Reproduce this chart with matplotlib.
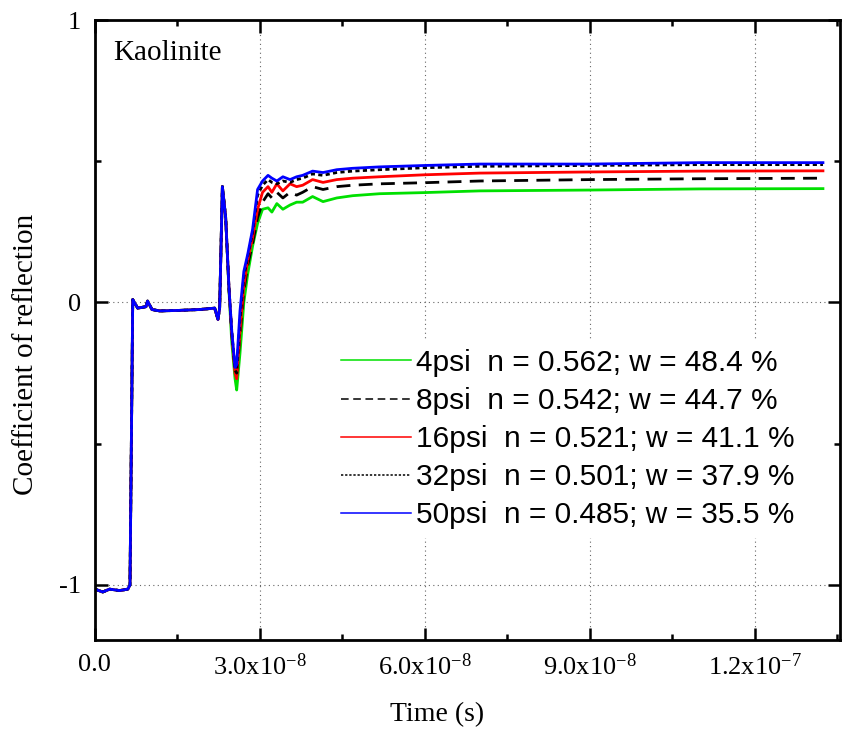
import numpy as np
import matplotlib
matplotlib.use('Agg')
import matplotlib.pyplot as plt
from matplotlib.ticker import FixedLocator, MultipleLocator

plt.rcParams['font.family'] = 'Liberation Serif'
plt.rcParams['mathtext.fontset'] = 'custom'
plt.rcParams['mathtext.rm'] = 'Liberation Serif'
plt.rcParams['mathtext.it'] = 'Liberation Serif:italic'

### data (time in units of 1e-8 s) ###
t_1e8 = [0.0, 0.145, 0.27, 0.45, 0.6, 0.64, 0.69, 0.78, 0.93, 0.96, 1.04, 1.18, 1.55, 1.91,
         2.18, 2.24, 2.27, 2.32, 2.38, 2.44, 2.49, 2.55, 2.58, 2.64, 2.71, 2.78, 2.87, 2.96,
         3.05, 3.15, 3.22, 3.31, 3.42, 3.55, 3.67, 3.78, 3.96, 4.15, 4.40, 4.69, 5.18, 6.0,
         7.0, 9.0, 11.0, 13.24]

# shared start of every trace (up to t = 2.44)
start = [-1.015, -1.025, -1.015, -1.02, -1.015, -1.0, 0.01, -0.02, -0.015, 0.005, -0.025,
         -0.03, -0.028, -0.025, -0.02, -0.06, -0.02, 0.41, 0.30]

r_4psi = start + [0.04, -0.14, -0.27, -0.31, -0.18, 0.0, 0.10, 0.20, 0.28, 0.33, 0.335, 0.32,
                  0.35, 0.33, 0.345, 0.355, 0.355, 0.375, 0.357, 0.37, 0.378, 0.385, 0.389,
                  0.395, 0.398, 0.402, 0.403]
r_8psi = start + [0.05, -0.11, -0.24, -0.26, -0.12, 0.04, 0.13, 0.21, 0.30, 0.355, 0.385, 0.37,
                  0.39, 0.37, 0.39, 0.38, 0.39, 0.41, 0.40, 0.41, 0.415, 0.42, 0.424,
                  0.43, 0.435, 0.438, 0.44]
r_16psi = start + [0.05, -0.11, -0.25, -0.27, -0.10, 0.06, 0.15, 0.23, 0.33, 0.39, 0.41, 0.39,
                   0.42, 0.395, 0.42, 0.41, 0.415, 0.435, 0.425, 0.435, 0.44, 0.445, 0.452,
                   0.458, 0.462, 0.465, 0.466]
r_32psi = start + [0.05, -0.10, -0.24, -0.25, -0.06, 0.09, 0.16, 0.25, 0.38, 0.415, 0.435, 0.425,
                   0.42, 0.43, 0.425, 0.435, 0.44, 0.455, 0.45, 0.46, 0.465, 0.47, 0.477,
                   0.482, 0.485, 0.488, 0.488]
r_50psi = start + [0.05, -0.10, -0.23, -0.22, -0.03, 0.11, 0.17, 0.26, 0.40, 0.43, 0.45, 0.44,
                   0.43, 0.445, 0.435, 0.445, 0.45, 0.465, 0.46, 0.47, 0.475, 0.48, 0.485,
                   0.49, 0.49, 0.495, 0.495]

labels = ['4psi  n = 0.562; w = 48.4 %',
          '8psi  n = 0.542; w = 44.7 %',
          '16psi  n = 0.521; w = 41.1 %',
          '32psi  n = 0.501; w = 37.9 %',
          '50psi  n = 0.485; w = 35.5 %']

xticks = [0.0, 3.0e-8, 6.0e-8, 9.0e-8, 1.2e-7]
xticklabels = ['0.0', '3.0x10$^{-8}$', '6.0x10$^{-8}$', '9.0x10$^{-8}$', '1.2x10$^{-7}$']
yticks = [-1, 0, 1]

### figure ###
fig = plt.figure(figsize=(8.54, 7.30), dpi=100)
ax = fig.add_axes([0.111, 0.1233, 0.8726, 0.8493])

t = np.array(t_1e8) * 1e-8
lw = 2.0
ax.plot(t, r_4psi, color='#00e000', lw=lw, label=labels[0])
ax.plot(t, r_8psi, color='black', lw=lw, dashes=(5, 3), label=labels[1])
ax.plot(t, r_16psi, color='#ff0000', lw=lw, label=labels[2])
ax.plot(t, r_32psi, color='black', lw=lw, dashes=(1.5, 1.2), label=labels[3])
ax.plot(t, r_50psi, color='#0000ff', lw=lw, label=labels[4])

ax.set_xlim(0, 1.355e-7)
ax.set_ylim(-1.195, 1.0)

ax.xaxis.set_major_locator(FixedLocator(xticks))
ax.set_xticklabels(xticklabels)
ax.xaxis.set_minor_locator(MultipleLocator(1.5e-8))
ax.yaxis.set_major_locator(FixedLocator(yticks))
ax.set_yticklabels(['-1', '0', '1'])
ax.yaxis.set_minor_locator(MultipleLocator(0.5))

ax.tick_params(which='both', direction='in', top=True, right=True, width=1.8, labelsize=19)
ax.tick_params(which='major', length=9, pad=10)
ax.tick_params(which='minor', length=4.5)
for s in ax.spines.values():
    s.set_linewidth(2.0)

ax.grid(True, which='major', linestyle=(0, (1, 3)), color='#666666', linewidth=0.8)

ax.set_xlabel('Time (s)', fontsize=20)
ax.xaxis.set_label_coords(0.459, -0.1)
ax.set_ylabel('Coefficient of reflection', fontsize=21)
ax.yaxis.set_label_coords(-0.075, 0.46)

ax.text(0.025, 0.967, 'Kaolinite', transform=ax.transAxes, fontsize=21, va='top', ha='left')

leg = ax.legend(loc='upper left', bbox_to_anchor=(0.318, 0.484), frameon=True,
                prop={'family': 'Liberation Sans', 'size': 21.5}, handlelength=2.35,
                handletextpad=0.17, labelspacing=0.34, borderpad=0.3, borderaxespad=0)
leg.get_frame().set_edgecolor('none')
leg.get_frame().set_facecolor('white')
leg.get_frame().set_alpha(1)
for line in leg.get_lines():
    line.set_linewidth(1.1)

fig.savefig('out.png', dpi=100)
